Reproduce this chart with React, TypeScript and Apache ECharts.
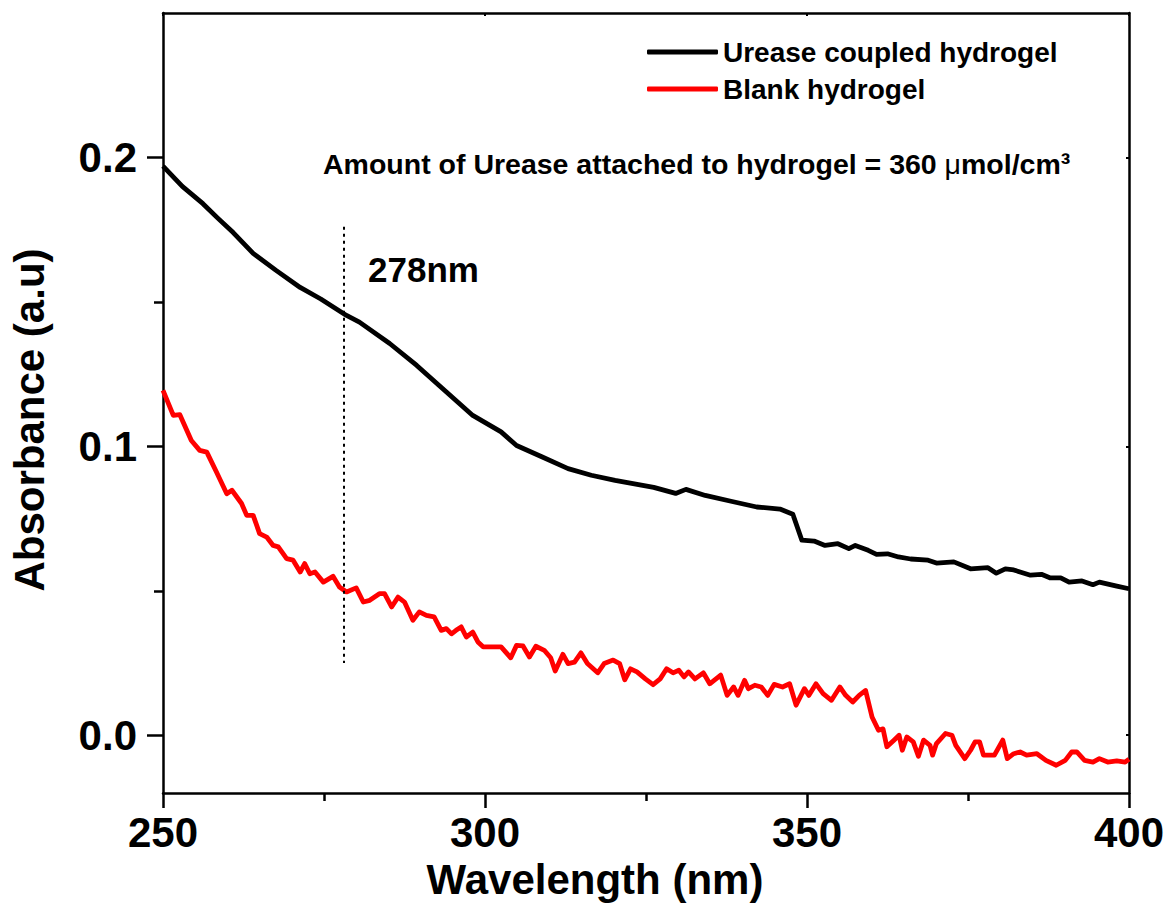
import React, { useEffect, useRef } from "react";
import * as echarts from "echarts";

// Urease-coupled hydrogel spectrum: wavelength (nm) and absorbance (a.u)
const ureaseWavelength = [250, 253, 256.2, 258.5, 260.9, 264, 267.5, 271.3, 274.5, 278.5, 280.5, 285.2, 289.4, 293.4, 298.1, 302.5, 304.9, 308.9, 312.9, 316.5, 320.2, 326.2, 329.6, 331.2, 334.2, 338.2, 342.2, 345.8, 347.8, 349.2, 351.1, 352.8, 354.8, 356.5, 357.5, 359.5, 360.8, 362.5, 364.2, 366.1, 368.8, 370.1, 372.8, 375.4, 378.1, 379.4, 380.8, 382.1, 384.7, 386.4, 387.7, 389.4, 390.7, 392.7, 394.4, 395.4, 398.1, 400];
const ureaseAbs = [0.197, 0.190, 0.184, 0.179, 0.174, 0.1668, 0.161, 0.155, 0.151, 0.1453, 0.143, 0.1356, 0.128, 0.120, 0.1107, 0.105, 0.1003, 0.0963, 0.0923, 0.090, 0.0882, 0.0858, 0.0837, 0.0851, 0.083, 0.081, 0.079, 0.0783, 0.0765, 0.0675, 0.0672, 0.0657, 0.0663, 0.0646, 0.0657, 0.064, 0.0626, 0.0628, 0.0617, 0.061, 0.0606, 0.0596, 0.06, 0.0576, 0.058, 0.0561, 0.0576, 0.0572, 0.0554, 0.0557, 0.0545, 0.0545, 0.053, 0.0534, 0.0521, 0.053, 0.0516, 0.0507];

// Blank hydrogel spectrum
const blankWavelength = [250, 251.6, 252.6, 254.4, 255.7, 256.8, 258.3, 259.9, 260.7, 262.2, 263, 264, 265, 266.1, 267.1, 267.9, 269.2, 270.2, 271.3, 272, 272.8, 273.6, 274.9, 276.4, 277.4, 278.5, 280, 281.1, 282.1, 283.6, 284.4, 285.5, 286.5, 287.5, 288.8, 289.8, 290.9, 292.1, 293.2, 294, 294.8, 295.5, 296.3, 297.1, 298.1, 298.9, 299.7, 302.5, 304, 304.9, 305.9, 306.9, 307.9, 309.2, 310.2, 310.9, 312.1, 312.9, 313.9, 314.9, 315.9, 317.5, 318.5, 319.9, 320.9, 321.7, 322.6, 323.6, 324.9, 326.1, 327.2, 328.2, 329.2, 330.1, 330.9, 331.6, 332.6, 333.9, 334.9, 336.6, 337.6, 338.6, 339.3, 340.3, 340.9, 341.9, 342.9, 343.9, 344.9, 346.2, 347.3, 348.3, 349.6, 350.3, 351.4, 352.5, 353.8, 355.1, 356, 357.1, 358.1, 359.1, 360.1, 361.1, 361.8, 362.4, 363.5, 364.3, 364.8, 365.5, 366.5, 367.3, 368.1, 369.1, 369.5, 370.1, 371.5, 372.5, 373.1, 374.5, 375.4, 376.1, 376.8, 377.4, 379.1, 380.4, 381.1, 382.1, 383.1, 384.1, 385.7, 387.1, 388.7, 390.1, 391.1, 391.9, 393.1, 394.4, 395.4, 396.7, 398.1, 399.4, 400];
const blankAbs = [0.1194, 0.1107, 0.111, 0.102, 0.0986, 0.098, 0.0911, 0.0836, 0.0848, 0.0802, 0.0761, 0.0761, 0.0698, 0.0686, 0.0657, 0.0652, 0.0611, 0.0606, 0.0565, 0.0594, 0.0559, 0.0565, 0.053, 0.055, 0.0513, 0.0496, 0.051, 0.0461, 0.0467, 0.049, 0.049, 0.0444, 0.0478, 0.0461, 0.0398, 0.0427, 0.0415, 0.041, 0.0363, 0.0369, 0.0351, 0.0363, 0.0375, 0.034, 0.0357, 0.0323, 0.0306, 0.0306, 0.0268, 0.0311, 0.0309, 0.0271, 0.0308, 0.0294, 0.0268, 0.0222, 0.028, 0.0248, 0.0253, 0.0285, 0.0248, 0.0216, 0.0248, 0.026, 0.0248, 0.0192, 0.023, 0.0219, 0.0195, 0.0175, 0.0195, 0.023, 0.0216, 0.0225, 0.0202, 0.0219, 0.0195, 0.0216, 0.0178, 0.0208, 0.0138, 0.0167, 0.0138, 0.019, 0.0161, 0.0173, 0.0167, 0.0138, 0.0176, 0.0167, 0.0178, 0.0104, 0.0161, 0.0138, 0.0178, 0.0144, 0.0121, 0.0167, 0.0138, 0.0115, 0.0138, 0.0155, 0.0063, 0.0017, 0.0022, -0.004, -0.0017, 0.0, -0.0052, -0.0006, -0.0023, -0.0073, -0.0017, -0.0035, -0.0069, -0.0029, 0.0006, 0.0, -0.0035, -0.0081, -0.0052, -0.0023, -0.0023, -0.0069, -0.0069, -0.0017, -0.0081, -0.0064, -0.0058, -0.0069, -0.0064, -0.0087, -0.0104, -0.0087, -0.0058, -0.0058, -0.0087, -0.0093, -0.0081, -0.0093, -0.0089, -0.0093, -0.0083];

// Axis ticks
const yMajorTicks = [0, 0.1, 0.2];
const yMinorTicks = [0.05, 0.15];

// Peak marker
const peakWavelength = 278;
const peakMarkerSpan = [0.176, 0.025];

const seriesNames = ["Urease coupled hydrogel", "Blank hydrogel"];
const FONT = "'Liberation Sans', Arial, Helvetica, sans-serif";
const LINE_WIDTH = 4.8;

function zip(xs: number[], ys: number[]) {
  return xs.map((x, i) => [x, ys[i]]);
}

export default function App() {
  const ref = useRef<HTMLDivElement>(null);

  useEffect(() => {
    if (!ref.current) return;
    const chart = echarts.init(ref.current, null, { renderer: "svg" });

    const grid = { left: 163, top: 13, width: 966, height: 780 };
    const yRange = { min: -0.02, max: 0.25 };

    chart.setOption({
      animation: false,
      backgroundColor: "#ffffff",
      grid: { ...grid, containLabel: false },
      legend: {
        orient: "vertical",
        left: 642,
        top: 33,
        itemWidth: 71,
        itemHeight: 5,
        itemGap: 9,
        icon: "roundRect",
        data: seriesNames,
        textStyle: { fontFamily: FONT, fontWeight: "bold", fontSize: 28, color: "#000" },
      },
      xAxis: [
        {
          type: "value",
          position: "bottom",
          min: 250,
          max: 400,
          interval: 50,
          axisLine: { show: true, onZero: false, lineStyle: { color: "#000", width: 2.5 } },
          axisTick: { show: true, inside: false, length: 15, lineStyle: { color: "#000", width: 2.5 } },
          minorTick: { show: true, splitNumber: 2, length: 8, lineStyle: { color: "#000", width: 2.5 } },
          splitLine: { show: false },
          axisLabel: {
            margin: 18,
            fontFamily: FONT,
            fontWeight: "bold",
            fontSize: 42,
            color: "#000",
          },
        },
        {
          type: "value",
          position: "top",
          min: 250,
          max: 400,
          interval: 50,
          axisLine: { show: true, onZero: false, lineStyle: { color: "#000", width: 2.5 } },
          axisTick: { show: true, inside: true, length: 3, lineStyle: { color: "#000", width: 2 } },
          splitLine: { show: false },
          axisLabel: { show: false },
        },
      ],
      yAxis: [
        {
          type: "value",
          position: "left",
          ...yRange,
          axisLine: { show: true, onZero: false, lineStyle: { color: "#000", width: 2.5 } },
          axisTick: { show: true, inside: false, length: 16, customValues: yMajorTicks, lineStyle: { color: "#000", width: 2.5 } },
          splitLine: { show: false },
          axisLabel: {
            customValues: yMajorTicks,
            formatter: (v: number) => v.toFixed(1),
            margin: 26,
            fontFamily: FONT,
            fontWeight: "bold",
            fontSize: 42,
            color: "#000",
          },
        },
        {
          type: "value",
          position: "left",
          ...yRange,
          axisLine: { show: false },
          axisTick: { show: true, inside: false, length: 9, customValues: yMinorTicks, lineStyle: { color: "#000", width: 2.5 } },
          splitLine: { show: false },
          axisLabel: { show: false },
        },
        {
          type: "value",
          position: "right",
          ...yRange,
          axisLine: { show: true, onZero: false, lineStyle: { color: "#000", width: 2.5 } },
          axisTick: { show: true, inside: true, length: 3, customValues: yMajorTicks, lineStyle: { color: "#000", width: 2 } },
          splitLine: { show: false },
          axisLabel: { show: false },
        },
      ],
      series: [
        {
          name: seriesNames[0],
          type: "line",
          xAxisIndex: 0,
          yAxisIndex: 0,
          data: zip(ureaseWavelength, ureaseAbs),
          showSymbol: false,
          symbol: "none",
          itemStyle: { color: "#000000" },
          lineStyle: { color: "#000000", width: LINE_WIDTH, join: "round" },
          markLine: {
            silent: true,
            symbol: "none",
            label: { show: false },
            lineStyle: { color: "#000", width: 2, type: [3, 4] },
            data: [
              [
                { coord: [peakWavelength, peakMarkerSpan[0]] },
                { coord: [peakWavelength, peakMarkerSpan[1]] },
              ],
            ],
          },
        },
        {
          name: seriesNames[1],
          type: "line",
          xAxisIndex: 0,
          yAxisIndex: 0,
          data: zip(blankWavelength, blankAbs),
          showSymbol: false,
          symbol: "none",
          itemStyle: { color: "#ff0000" },
          lineStyle: { color: "#ff0000", width: LINE_WIDTH, join: "round" },
        },
      ],
      graphic: [
        {
          type: "text",
          left: 368,
          top: 252,
          style: {
            text: `${peakWavelength}nm`,
            fontFamily: FONT,
            fontWeight: "bold",
            fontSize: 35,
            fill: "#000",
          },
        },
        {
          type: "text",
          left: 323,
          top: 149,
          style: {
            text: "{a|Amount of Urease attached to hydrogel = 360 }{mu|μ}{a|mol/cm³}",
            rich: {
              a: { fontFamily: FONT, fontWeight: "bold", fontSize: 28.5, fill: "#000" },
              mu: { fontFamily: FONT, fontWeight: "normal", fontSize: 28.5, fill: "#000" },
            },
          },
        },
        {
          type: "text",
          x: 595,
          y: 879,
          style: {
            text: "Wavelength (nm)",
            align: "center",
            verticalAlign: "middle",
            fontFamily: FONT,
            fontWeight: "bold",
            fontSize: 42,
            fill: "#000",
          },
        },
        {
          type: "text",
          x: 29,
          y: 420,
          rotation: Math.PI / 2,
          style: {
            text: "Absorbance (a.u)",
            align: "center",
            verticalAlign: "middle",
            fontFamily: FONT,
            fontWeight: "bold",
            fontSize: 42,
            fill: "#000",
          },
        },
      ],
    });

    return () => chart.dispose();
  }, []);

  return (
    <div
      ref={ref}
      style={{ position: "absolute", left: 0, top: 0, width: 1169, height: 915, background: "#fff" }}
    />
  );
}
